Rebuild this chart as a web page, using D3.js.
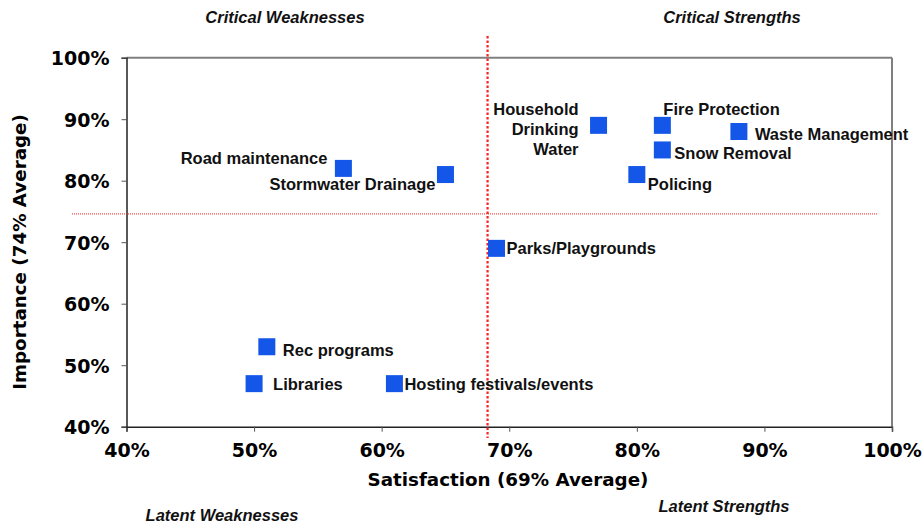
<!DOCTYPE html>
<html>
<head>
<meta charset="utf-8">
<script src="https://d3js.org/d3.v7.min.js"></script>
<style>
body { margin: 0; background: #fff; }
.tick-lbl { font-family: 'DejaVu Sans', Verdana, sans-serif; font-weight: bold; font-size: 19px; fill: #000; }
.pt-lbl { font-family: 'Liberation Sans', Arial, sans-serif; font-weight: bold; font-size: 16.5px; fill: #111; }
.quad { font-family: 'Liberation Sans', Arial, sans-serif; font-weight: bold; font-style: italic; font-size: 16.5px; fill: #111; }
</style>
</head>
<body>
<div id="wrapper"></div>
<script>
// service scores (percent)
var services = ["Household Drinking Water", "Fire Protection", "Waste Management", "Snow Removal", "Policing",
                "Road maintenance", "Stormwater Drainage", "Parks/Playgrounds", "Rec programs", "Libraries",
                "Hosting festivals/events"];
var satisfaction = [77, 82, 88, 82, 80, 57, 65, 69, 51, 50, 61];
var importance   = [89, 89, 88, 85, 81, 82, 81, 69, 53, 47, 47];
var xTicks = [40, 50, 60, 70, 80, 90, 100];
var yTicks = [40, 50, 60, 70, 80, 90, 100];
var avgSatisfaction = 68.3;
var avgImportance = 74.6;

var width = 924, height = 525;
var plotLeft = 126.5, plotRight = 892, plotTop = 57.7, plotBottom = 426.7;

var x = d3.scaleLinear().domain([40, 100]).range([plotLeft, plotRight]);
var y = d3.scaleLinear().domain([40, 100]).range([plotBottom, plotTop]);

var svg = d3.select("#wrapper").append("svg")
    .attr("width", width).attr("height", height);

// frame: top and right grey
svg.append("line").attr("x1", plotLeft).attr("x2", plotRight).attr("y1", plotTop).attr("y2", plotTop)
    .attr("stroke", "#808080").attr("stroke-width", 2);
svg.append("line").attr("x1", plotRight).attr("x2", plotRight).attr("y1", plotTop).attr("y2", plotBottom)
    .attr("stroke", "#808080").attr("stroke-width", 2);

// axes
var xAxis = svg.append("g").attr("transform", "translate(0," + plotBottom + ")")
    .call(d3.axisBottom(x).tickValues(xTicks).tickSize(5).tickFormat(function(d){ return d + "%"; }));
var yAxis = svg.append("g").attr("transform", "translate(" + plotLeft + ",0)")
    .call(d3.axisLeft(y).tickValues(yTicks).tickSize(5).tickFormat(function(d){ return d + "%"; }));
[xAxis, yAxis].forEach(function(a){
    a.select(".domain").attr("stroke", "#222").attr("stroke-width", 1.5);
    a.selectAll(".tick line").attr("stroke", "#555");
    a.selectAll(".tick text").attr("class", "tick-lbl");
});
xAxis.selectAll(".tick text").attr("dy", "1.2em");
yAxis.selectAll(".tick text").attr("dx", "-9px").attr("dy", "0.36em");

// average lines
svg.append("line")
    .attr("x1", 72).attr("x2", 877)
    .attr("y1", y(avgImportance)).attr("y2", y(avgImportance))
    .attr("stroke", "#ff2020").attr("stroke-width", 1).attr("stroke-dasharray", "1,1");
svg.append("line")
    .attr("x1", x(avgSatisfaction)).attr("x2", x(avgSatisfaction))
    .attr("y1", 36).attr("y2", 438)
    .attr("stroke", "#ff2020").attr("stroke-width", 2.2).attr("stroke-dasharray", "2.5,2");

// points
var data = services.map(function(s, i){ return {name: s, sx: satisfaction[i], im: importance[i]}; });
var sz = 17;
svg.selectAll("rect.pt").data(data).enter().append("rect")
    .attr("class", "pt")
    .attr("x", function(d){ return x(d.sx) - sz / 2; })
    .attr("y", function(d){ return y(d.im) - sz / 2; })
    .attr("width", sz).attr("height", sz)
    .attr("fill", "#1457e8");

// label offsets relative to the marker [dx, dy, anchor]
var labelPos = {
    "Household Drinking Water": [-20, -10, "end"],
    "Fire Protection": [1, -10, "start"],
    "Waste Management": [16, 8, "start"],
    "Snow Removal": [12, 9, "start"],
    "Policing": [11, 15, "start"],
    "Road maintenance": [-16, -4, "end"],
    "Stormwater Drainage": [-10, 15, "end"],
    "Parks/Playgrounds": [10, 6, "start"],
    "Rec programs": [16, 9, "start"],
    "Libraries": [19, 6, "start"],
    "Hosting festivals/events": [10, 6, "start"]
};
data.forEach(function(d){
    var p = labelPos[d.name];
    var t = svg.append("text").attr("class", "pt-lbl")
        .attr("text-anchor", p[2])
        .attr("x", x(d.sx) + p[0])
        .attr("y", y(d.im) + p[1]);
    if (d.name === "Household Drinking Water") {
        ["Household", "Drinking", "Water"].forEach(function(w, i){
            t.append("tspan").attr("x", x(d.sx) + p[0]).attr("y", y(d.im) - 10 + i * 20).text(w);
        });
    } else {
        t.text(d.name);
    }
});

// axis titles
svg.append("text").attr("class", "tick-lbl").style("font-size", "18.3px")
    .attr("text-anchor", "middle").attr("x", 508).attr("y", 486)
    .text("Satisfaction (69% Average)");
svg.append("text").attr("class", "tick-lbl").style("font-size", "18.3px")
    .attr("text-anchor", "middle")
    .attr("transform", "translate(26,252) rotate(-90)")
    .text("Importance (74% Average)");

// quadrant names
var quads = [["Critical Weaknesses", 285, 23], ["Critical Strengths", 732, 23],
             ["Latent Weaknesses", 222, 521], ["Latent Strengths", 724, 512]];
svg.selectAll("text.quad").data(quads).enter().append("text")
    .attr("class", "quad").attr("text-anchor", "middle")
    .attr("x", function(d){ return d[1]; })
    .attr("y", function(d){ return d[2]; })
    .text(function(d){ return d[0]; });
</script>
</body>
</html>
